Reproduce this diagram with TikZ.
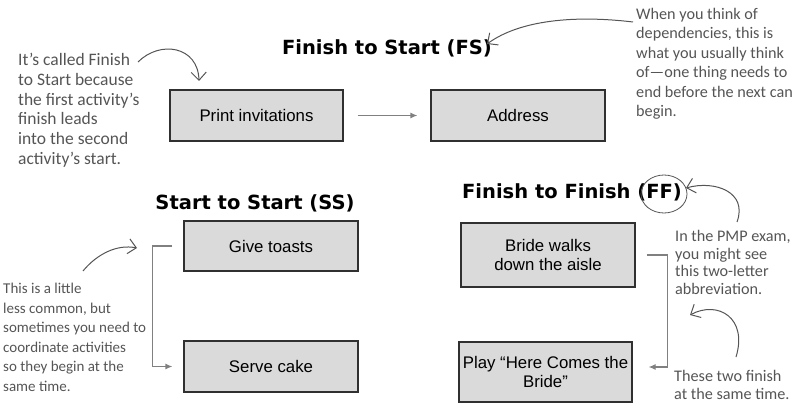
\documentclass[tikz,border=0pt]{standalone}
\usepackage{fontspec}
\setmainfont{Liberation Sans}
\newfontfamily\handfont{Carlito}
\newfontfamily\headfont{DejaVu Sans}
\usetikzlibrary{arrows.meta}
\definecolor{boxfill}{HTML}{DADADA}
\definecolor{boxline}{HTML}{303030}
\definecolor{linkgray}{HTML}{808080}
\definecolor{notegray}{HTML}{555555}

\begin{document}
\begin{tikzpicture}[x=1pt, y=-1pt,
  task/.style = {draw=boxline, fill=boxfill, line width=1.2pt, align=center,
    font=\fontsize{16.8}{19.5}\selectfont, inner sep=0pt},
  title/.style = {font=\headfont\fontsize{19.5}{22}\selectfont\bfseries, inner sep=0pt},
  note/.style = {font=\handfont\fontsize{16.2}{19.5}\selectfont, text=notegray,
    align=left, anchor=north west, inner sep=0pt},
  link/.style = {draw=linkgray, line width=1.2pt, -{Latex[length=7pt,width=6pt]}},
  hand/.style = {draw=notegray, line width=1pt, -{Straight Barb[length=8pt,width=15pt]}}]
  \useasboundingbox (0,0) rectangle (796,404);

  \node[title] (fs) at (387,48) {Finish to Start (FS)};
  \node[title] (ss) at (255,203) {Start to Start (SS)};
  \node[title] (ff) at (572,192) {Finish to Finish (FF)};

  \node[task, minimum width=173pt, minimum height=51pt] (print) at (256.5,115.5) {Print invitations};
  \node[task, minimum width=174pt, minimum height=51pt] (addr) at (518,115.5) {Address};
  \node[task, minimum width=174pt, minimum height=50pt] (toast) at (271,246) {Give toasts};
  \node[task, minimum width=174pt, minimum height=51pt] (cake) at (271,366.5) {Serve cake};
  \node[task, minimum width=174pt, minimum height=64pt] (bride) at (548,255) {Bride walks\\down the aisle};
  \node[task, minimum width=173pt, minimum height=60pt] (play) at (545.5,372) {Play “Here Comes the\\Bride”};

  \draw[link, shorten <=14pt, shorten >=13pt] (print) -- (addr);
  \draw[link, shorten <=11pt, shorten >=11pt] (toast.west) -- ++(-31,0) |- (cake.west);
  \draw[link, shorten <=11pt, shorten >=16pt] (bride.east) -- ++(32,0) |- ([yshift=5pt]play.east);

  \draw[draw=notegray, line width=0.8pt] (664,194) ellipse (23pt and 19pt);

  \node[note, font=\handfont\fontsize{17.5}{19.8}\selectfont] (n1) at (18,53) {It’s called Finish\\to Start because\\the first activity’s\\finish leads\\into the second\\activity’s start.};
  \node[note] (n2) at (636,8) {When you think of\\dependencies, this is\\what you usually think\\of—one thing needs to\\end before the next can\\begin.};
  \node[note, font=\handfont\fontsize{16.2}{17.7}\selectfont] (n3) at (675,230) {In the PMP exam,\\you might see\\this two-letter\\abbreviation.};
  \node[note, font=\handfont\fontsize{16.2}{18}\selectfont] (n4) at (674,370) {These two finish\\at the same time.};
  \node[note, font=\handfont\fontsize{15}{19.5}\selectfont] (n5) at (3,283) {This is a little\\less common, but\\sometimes you need to\\coordinate activities\\so they begin at the\\same time.};

  \coordinate (t1) at (199,81);
  \coordinate (t2) at (487,44);
  \coordinate (t3) at (686,188);
  \coordinate (t4) at (690,315);
  \coordinate (t5) at (137,248);
  \draw[hand] (138,62) .. controls (160,40) and (198,46) .. (t1);
  \draw[hand] (633,22) .. controls (575,15) and (520,20) .. (t2);
  \draw[hand] (737,222) .. controls (748,192) and (715,180) .. (t3);
  \draw[hand] (736,357) .. controls (748,318) and (718,300) .. (t4);
  \draw[hand] (83,271) .. controls (97,254) and (117,244) .. (t5);
\end{tikzpicture}
\end{document}
